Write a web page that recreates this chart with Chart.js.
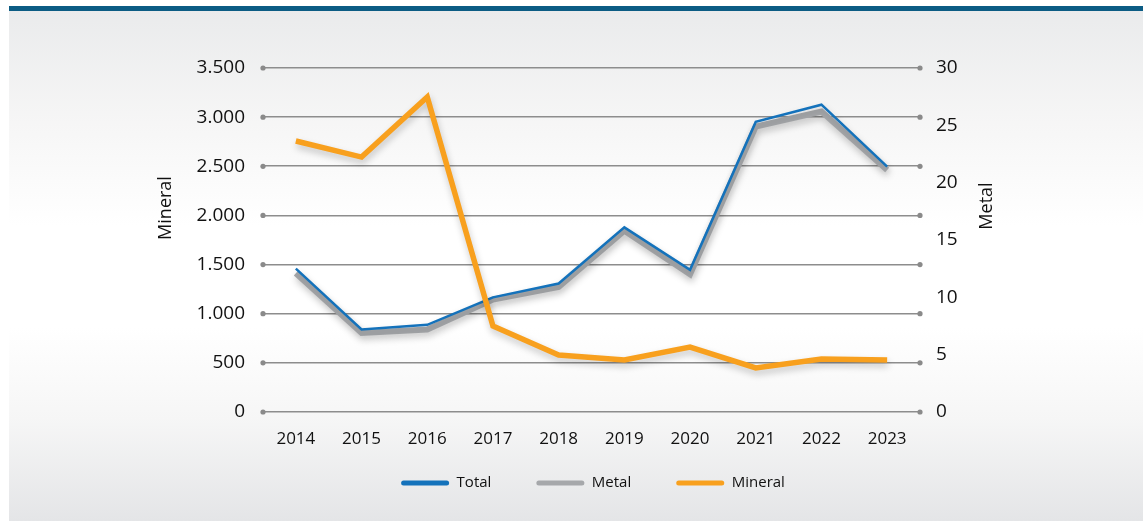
<!DOCTYPE html>
<html>
<head>
<meta charset="utf-8">
<script src="https://cdn.jsdelivr.net/npm/chart.js@4.4.1/dist/chart.umd.min.js"></script>
<style>
  html, body { margin: 0; padding: 0; background: #ffffff; }
  #panel {
    position: absolute; left: 9px; top: 6px; width: 1134px; height: 510px;
    border-top: 5px solid #0c5c84;
    background: linear-gradient(#eaebec 0%, #f6f6f6 22%, #ffffff 42%, #ffffff 62%, #f6f6f6 80%, #e4e5e7 100%);
  }
  #chart { position: absolute; left: 0; top: 0; }
</style>
</head>
<body>
<div id="panel"></div>
<canvas id="chart" width="1146" height="521"></canvas>
<script>
const years = ["2014", "2015", "2016", "2017", "2018", "2019", "2020", "2021", "2022", "2023"];

// Total and Metal read against the right axis, Mineral against the left one
const totalValues = [12.5, 7.2, 7.6, 10.0, 11.2, 16.1, 12.4, 25.3, 26.8, 21.4];
const metalValues = [12.1, 6.9, 7.2, 9.8, 10.9, 15.8, 12.0, 24.9, 26.2, 21.1];
const mineralValues = [2757, 2594, 3205, 875, 580, 529, 661, 448, 539, 529];

const leftTicks = [0, 500, 1000, 1500, 2000, 2500, 3000, 3500];
const rightTicks = [0, 5, 10, 15, 20, 25, 30];

const FONT = "'Open Sans', 'Noto Sans', sans-serif";

function dotted(n) {
    return String(n).replace(/\B(?=(\d{3})+(?!\d))/g, ".");
}

// soft drop shadow under each line
const shadowPlugin = {
    id: "shadow",
    beforeDatasetDraw(chart) {
        const c = chart.ctx;
        c.save();
        c.shadowColor = "rgba(0,0,0,0.22)";
        c.shadowBlur = 7;
        c.shadowOffsetX = 1;
        c.shadowOffsetY = 4;
    },
    afterDatasetDraw(chart) {
        chart.ctx.restore();
    }
};

// legend keeps wide item spacing but sits closer to the axis
const legendPlugin = {
    id: "legendFix",
    beforeInit(chart) {
        const lg = chart.legend;
        const fit = lg.fit;
        lg.fit = function () {
            fit.call(this);
            this.height = 69;
        };
    },
    afterLayout(chart) {
        const shift = chart.legend.options.labels.padding + 7.5 - 31;
        chart.legend.top -= shift;
        chart.legend.bottom -= shift;
    }
};

// dots at both ends of each gridline, plus axis titles
const decoPlugin = {
    id: "deco",
    beforeDatasetsDraw(chart) {
        const c = chart.ctx;
        const area = chart.chartArea;
        const y = chart.scales.y;
        c.save();
        c.fillStyle = "#8a8a8a";
        y.ticks.forEach((t, i) => {
            const py = y.getPixelForTick(i);
            [area.left, area.right].forEach(px => {
                c.beginPath();
                c.arc(px, py, 2.6, 0, Math.PI * 2);
                c.fill();
            });
        });
        c.restore();
    },
    afterDraw(chart) {
        const c = chart.ctx;
        [["Mineral", 166, 208], ["Metal", 987, 206]].forEach(([txt, x, y]) => {
            c.save();
            c.fillStyle = "#111";
            c.font = "18px " + FONT;
            c.textAlign = "center";
            c.textBaseline = "middle";
            c.translate(x, y);
            c.rotate(-Math.PI / 2);
            c.fillText(txt, 0, 0);
            c.restore();
        });
    }
};

const ctx = document.getElementById("chart");

const chart = new Chart(ctx, {
    type: "line",
    data: {
        labels: years,
        datasets: [
        {
            label: "Total",
            data: totalValues,
            yAxisID: "y1",
            borderColor: "#1472bb",
            backgroundColor: "#1472bb",
            borderWidth: 2.5,
            pointRadius: 0,
            tension: 0,
            order: 1
        },
        {
            label: "Metal",
            data: metalValues,
            yAxisID: "y1",
            borderColor: "#a6a8ab",
            backgroundColor: "#a6a8ab",
            borderWidth: 6,
            pointRadius: 0,
            tension: 0,
            order: 2
        },
        {
            label: "Mineral",
            data: mineralValues,
            yAxisID: "y",
            borderColor: "#f8a01e",
            backgroundColor: "#f8a01e",
            borderWidth: 5.5,
            pointRadius: 0,
            tension: 0,
            order: 0
        }]
    },
    options: {
        responsive: false,
        animation: false,
        devicePixelRatio: 1,
        layout: {
            autoPadding: false,
            padding: { top: 68, left: 40, right: 0, bottom: 0 }
        },
        plugins: {
            tooltip: { enabled: false },
            legend: {
                position: "bottom",
                labels: {
                    color: "#111",
                    font: { family: FONT, size: 15 },
                    boxWidth: 48,
                    boxHeight: 5,
                    padding: 45,
                    useBorderRadius: true,
                    borderRadius: 2.5,
                    sort: (a, b) => a.datasetIndex - b.datasetIndex,
                    generateLabels(chart) {
                        const items = Chart.defaults.plugins.legend.labels.generateLabels(chart);
                        items.forEach(it => { it.lineWidth = 0; it.strokeStyle = "rgba(0,0,0,0)"; });
                        return items;
                    }
                }
            }
        },
        scales: {
            x: {
                offset: true,
                grid: { display: false, drawTicks: false },
                border: { display: false },
                ticks: {
                    color: "#111",
                    padding: 17,
                    font: { family: "'Liberation Sans Narrow', " + FONT, size: 17 }
                },
                afterFit: s => { s.height = 40; }
            },
            y: {
                position: "left",
                min: 0,
                max: 3500,
                afterBuildTicks: s => { s.ticks = leftTicks.map(v => ({ value: v })); },
                grid: { color: "#8d8d8d", lineWidth: 1.6, drawTicks: false },
                border: { display: false },
                ticks: {
                    color: "#111",
                    padding: 18,
                    font: { family: FONT, size: 19 },
                    callback: v => dotted(v)
                },
                afterFit: s => { s.width = 223; }
            },
            y1: {
                position: "right",
                min: 0,
                max: 30,
                afterBuildTicks: s => { s.ticks = rightTicks.map(v => ({ value: v })); },
                grid: { display: false, drawTicks: false },
                border: { display: false },
                ticks: {
                    color: "#111",
                    padding: 16,
                    font: { family: FONT, size: 19 }
                },
                afterFit: s => { s.width = 226; }
            }
        }
    },
    plugins: [shadowPlugin, legendPlugin, decoPlugin]
});
</script>
</body>
</html>
